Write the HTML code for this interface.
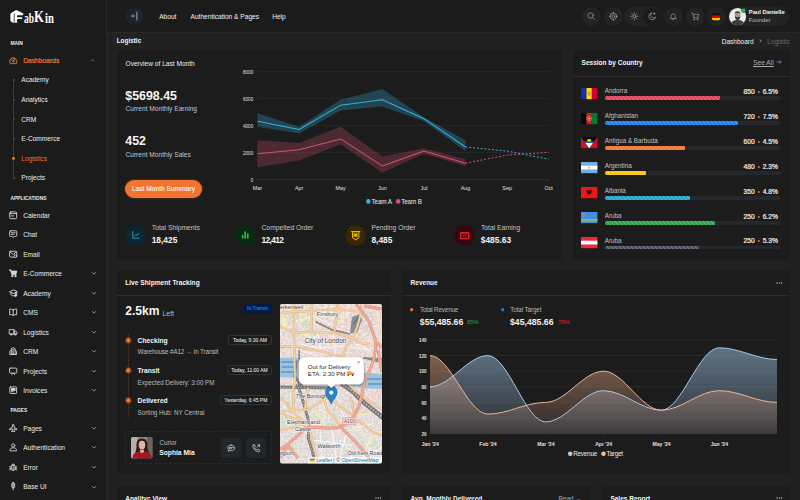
<!DOCTYPE html>
<html><head><meta charset="utf-8"><title>Logistic Dashboard</title>
<style>
*{box-sizing:border-box;margin:0;padding:0}
html,body{width:800px;height:500px;overflow:hidden;background:#212121;font-family:"Liberation Sans",sans-serif;color:#ececec}
body{position:relative}
.t{position:absolute;white-space:nowrap;line-height:1;font-size:6.6px}
.b{font-weight:bold}
.g{color:#c3c6cb}
.side{position:absolute;left:0;top:0;width:107px;height:500px;background:#1b1b1b;border-right:1px solid #292929}
.top{position:absolute;left:107px;top:0;width:693px;height:33px;background:#1b1b1b;border-bottom:1px solid #282828}
.card{position:absolute;background:#1c1c1c;border-radius:3.5px}
.hr{position:absolute;height:1px;background:#2d2d2d}
.cap{font-size:4.9px;font-weight:bold;color:#ededed}
.or{color:#f27430}
svg{position:absolute;overflow:visible}
.ic{fill:none;stroke:#d6d6d6;stroke-width:.9;stroke-linecap:round;stroke-linejoin:round}
.circ{position:absolute;border-radius:50%;background:#232323}
.ax{font-size:4.6px;color:#e0e0e0}
.bar{position:absolute;height:3.8px;border-radius:1.900px}
.trk{background:#24282c}
.stripe{background-image:linear-gradient(45deg,rgba(255,255,255,.18) 25%,transparent 25%,transparent 50%,rgba(255,255,255,.18) 50%,rgba(255,255,255,.18) 75%,transparent 75%,transparent);background-size:4px 4px}
.tb{position:absolute;border:.8px solid #333;border-radius:2.500px;font-size:5px;color:#d6d6d6;-webkit-text-stroke:.12px #d6d6d6;text-align:center;white-space:nowrap}
</style></head><body>

<div class="side"></div>
<svg style="left:10.4px;top:9.7px" width="14" height="13.2" viewBox="0 0 14 13.2">
<path d="M0.4 3.6 L6.1 0.1 L13.2 3.2 L13.2 5.2 L7.1 5.2 L7.1 7.2 L12.2 7.2 L12.2 8.9 L7.1 8.9 L7.1 12.7 L2.9 12.7 L0.4 11 Z" fill="#fff"/>
<path d="M4.6 3.6 C4 6 4 9 4.3 12.6" stroke="#1b1b1b" stroke-width=".8" fill="none"/>
</svg>
<div class="t b" style="left:24.3px;top:19.1px;font-family:'Liberation Serif',serif;font-size:14px;color:#fff;transform:translateY(-50%) scaleX(.68);transform-origin:left center">ab</div>
<div class="t b" style="left:34.3px;top:17.4px;font-family:'Liberation Serif',serif;font-size:17.4px;color:#fff;transform:translateY(-50%) scaleX(.74);transform-origin:left center">K</div>
<div class="t b" style="left:44.7px;top:19.1px;font-family:'Liberation Serif',serif;font-size:14px;color:#fff;transform:translateY(-50%) scaleX(.76);transform-origin:left center">in</div>
<div class="t cap" style="left:10.4px;top:42px;">MAIN</div>
<svg style="left:8.9px;top:56.3px" width="8.6" height="8.4" viewBox="0 0 8.6 8.4"><g class="ic" style="stroke:#f27430">
<path d="M1.1 7.3 A3.7 3.7 0 1 1 7.5 7.3 Z"/><path d="M4.3 5.2 L5.9 3.1"/><circle cx="4.3" cy="5.3" r=".7"/><path d="M2.2 3.6l.5.5M4.3 2.4v.6"/></g></svg>
<div class="t or" style="left:23.2px;top:58px;font-size:6.7px;-webkit-text-stroke:.2px #f27430">Dashboards</div>
<svg style="left:91.3px;top:59.1px" width="3.800" height="2.600" viewBox="0 0 4.4 3"><path d="M.4 2.5L2.2.6 4 2.5" fill="none" stroke="#e56a2c" stroke-width=".75" stroke-linecap="round" stroke-linejoin="round"/></svg>
<div style="position:absolute;left:13.3px;top:79px;width:.7px;height:99px;background:#383838"></div>
<div style="position:absolute;left:12.5px;top:79.00px;width:2.3px;height:2.3px;border-radius:50%;background:#484848"></div>
<div class="t " style="left:21.3px;top:77px;">Academy</div>
<div style="position:absolute;left:12.5px;top:98.60px;width:2.3px;height:2.3px;border-radius:50%;background:#484848"></div>
<div class="t " style="left:21.3px;top:97px;">Analytics</div>
<div style="position:absolute;left:12.5px;top:118.20px;width:2.3px;height:2.3px;border-radius:50%;background:#484848"></div>
<div class="t " style="left:21.3px;top:117px;">CRM</div>
<div style="position:absolute;left:12.5px;top:137.80px;width:2.3px;height:2.3px;border-radius:50%;background:#484848"></div>
<div class="t " style="left:21.3px;top:136px;">E-Commerce</div>
<div style="position:absolute;left:12.2px;top:157.10px;width:2.9px;height:2.9px;border-radius:50%;background:#f27430"></div>
<div class="t or" style="left:21.3px;top:156px;">Logistics</div>
<div style="position:absolute;left:12.5px;top:177.00px;width:2.3px;height:2.3px;border-radius:50%;background:#484848"></div>
<div class="t " style="left:21.3px;top:175px;">Projects</div>
<div class="t cap" style="left:10.4px;top:197px;">APPLICATIONS</div>
<svg style="left:8.8px;top:210.80px" width="8.4" height="8.4" viewBox="0 0 8.4 8.4"><g class="ic"><rect x=".7" y=".9" width="7" height="6.800" rx="1.100"/><path d="M.7 2.600h7M2.100 4.900h2.400"/></g></svg>
<div class="t " style="left:23.2px;top:213px;">Calendar</div>
<svg style="left:8.8px;top:230.27px" width="8.4" height="8.4" viewBox="0 0 8.4 8.4"><g class="ic"><path d="M1.6.8h5.2a1 1 0 0 1 1 1v3.6a1 1 0 0 1-1 1H5.2L4.2 7.7 3.2 6.4H1.6a1 1 0 0 1-1-1V1.8a1 1 0 0 1 1-1z"/><path d="M2.3 2.8h3.8M2.3 4.3h2.6"/></g></svg>
<div class="t " style="left:23.2px;top:232px;">Chat</div>
<svg style="left:8.8px;top:249.74px" width="8.4" height="8.4" viewBox="0 0 8.4 8.4"><g class="ic"><rect x=".6" y="1.3" width="7.2" height="5.8" rx=".9"/><path d="M.8 1.8l3.4 2.6 3.4-2.6"/><circle cx="6.4" cy="6.2" r="1.3" style="fill:#1b1b1b"/></g></svg>
<div class="t " style="left:23.2px;top:252px;">Email</div>
<svg style="left:8.8px;top:269.21px" width="8.4" height="8.4" viewBox="0 0 8.4 8.4"><g class="ic"><path d="M.5.9h1.2l1.1 4.5h4.1l.9-3.3H2.2z" style="fill:#d6d6d6"/><circle cx="3.2" cy="7" r=".7" style="fill:#d6d6d6"/><circle cx="6.4" cy="7" r=".7" style="fill:#d6d6d6"/></g></svg>
<div class="t " style="left:23.2px;top:271px;">E-Commerce</div>
<svg style="left:91.9px;top:272.41px" width="4" height="2.700" viewBox="0 0 4.4 3"><path d="M.5.6L2.200 2.400 3.900.6" fill="none" stroke="#bdbdbd" stroke-width=".8" stroke-linecap="round" stroke-linejoin="round"/></svg>
<svg style="left:8.8px;top:288.68px" width="8.4" height="8.4" viewBox="0 0 8.4 8.4"><g class="ic"><path d="M4.2 1L.5 2.8l3.7 1.8 3.7-1.8z"/><path d="M2 3.7v1.9c0 .6 1 1.2 2.2 1.2s2.2-.6 2.2-1.2V3.7"/><path d="M7.7 3v2.6" /><circle cx="6.6" cy="6.6" r="1" style="fill:#d6d6d6"/></g></svg>
<div class="t " style="left:23.2px;top:291px;">Academy</div>
<svg style="left:91.9px;top:291.88px" width="4" height="2.700" viewBox="0 0 4.4 3"><path d="M.5.6L2.200 2.400 3.900.6" fill="none" stroke="#bdbdbd" stroke-width=".8" stroke-linecap="round" stroke-linejoin="round"/></svg>
<svg style="left:8.8px;top:308.15px" width="8.4" height="8.4" viewBox="0 0 8.4 8.4"><g class="ic"><path d="M4.2 1.9C3.3 1.2 2 1 .7 1.2v5.5c1.3-.2 2.6 0 3.5.7.9-.7 2.2-.9 3.5-.7V1.2C6.400 1 5.100 1.200 4.200 1.900z"/><path d="M4.2 1.9v5.500"/></g></svg>
<div class="t " style="left:23.2px;top:310px;">CMS</div>
<svg style="left:91.9px;top:311.35px" width="4" height="2.700" viewBox="0 0 4.4 3"><path d="M.5.6L2.200 2.400 3.900.6" fill="none" stroke="#bdbdbd" stroke-width=".8" stroke-linecap="round" stroke-linejoin="round"/></svg>
<svg style="left:8.8px;top:327.62px" width="8.4" height="8.4" viewBox="0 0 8.4 8.4"><g class="ic"><path d="M.6 1.600h4.600v4.400H.6z"/><path d="M5.200 3h1.600l1.100 1.500V6H5.200z"/><circle cx="2.300" cy="6.500" r=".8" style="fill:#1b1b1b"/><circle cx="6.300" cy="6.500" r=".8" style="fill:#1b1b1b"/></g></svg>
<div class="t " style="left:23.2px;top:330px;">Logistics</div>
<svg style="left:91.9px;top:330.82px" width="4" height="2.700" viewBox="0 0 4.4 3"><path d="M.5.6L2.200 2.400 3.900.6" fill="none" stroke="#bdbdbd" stroke-width=".8" stroke-linecap="round" stroke-linejoin="round"/></svg>
<svg style="left:8.8px;top:347.09px" width="8.4" height="8.4" viewBox="0 0 8.4 8.4"><g class="ic"><path d="M2.300 7.500V1.600L4.200.7l1.900.9v5.900"/><path d="M2.300 3.500L.8 4.300v3.200h6.800V4.300L6.100 3.500"/><path d="M3.600 7.500V5.800h1.200v1.700M3.600 2.800h1.200M3.600 4.200h1.200"/></g></svg>
<div class="t " style="left:23.2px;top:349px;">CRM</div>
<svg style="left:91.9px;top:350.29px" width="4" height="2.700" viewBox="0 0 4.4 3"><path d="M.5.6L2.200 2.400 3.900.6" fill="none" stroke="#bdbdbd" stroke-width=".8" stroke-linecap="round" stroke-linejoin="round"/></svg>
<svg style="left:8.8px;top:366.56px" width="8.4" height="8.4" viewBox="0 0 8.4 8.4"><g class="ic"><rect x=".6" y="1.100" width="7.200" height="5" rx=".7"/><path d="M2.800 7.600l1.400-1.500 1.400 1.500"/></g></svg>
<div class="t " style="left:23.2px;top:369px;">Projects</div>
<svg style="left:91.9px;top:369.76px" width="4" height="2.700" viewBox="0 0 4.4 3"><path d="M.5.6L2.200 2.400 3.900.6" fill="none" stroke="#bdbdbd" stroke-width=".8" stroke-linecap="round" stroke-linejoin="round"/></svg>
<svg style="left:8.8px;top:386.03px" width="8.4" height="8.4" viewBox="0 0 8.4 8.4"><g class="ic"><rect x=".8" y=".9" width="6.800" height="6.600" rx=".7"/><path d="M2.300 2.700h3.800M2.300 4.200h3.800M2.300 5.700h2" /><rect x="2" y="2.200" width="4.400" height="2.400" style="fill:#d6d6d6;stroke:none"/></g></svg>
<div class="t " style="left:23.2px;top:388px;">Invoices</div>
<svg style="left:91.9px;top:389.23px" width="4" height="2.700" viewBox="0 0 4.4 3"><path d="M.5.6L2.200 2.400 3.900.6" fill="none" stroke="#bdbdbd" stroke-width=".8" stroke-linecap="round" stroke-linejoin="round"/></svg>
<svg style="left:8.8px;top:423.70px" width="8.4" height="8.4" viewBox="0 0 8.4 8.4"><g class="ic"><path d="M4.200.6c.5 0 .8.500.8 1.200v1.300l2.800 1.700v.9L5 4.900v1.500l.9.700v.600L4.200 7.300l-1.700.4v-.600l.9-.700V4.900L.6 5.700v-.900l2.800-1.700V1.800c0-.700.300-1.200.800-1.200z"/></g></svg>
<div class="t " style="left:23.2px;top:426px;">Pages</div>
<svg style="left:91.9px;top:426.90px" width="4" height="2.700" viewBox="0 0 4.4 3"><path d="M.5.6L2.200 2.400 3.900.6" fill="none" stroke="#bdbdbd" stroke-width=".8" stroke-linecap="round" stroke-linejoin="round"/></svg>
<svg style="left:8.8px;top:443.20px" width="8.4" height="8.4" viewBox="0 0 8.4 8.4"><g class="ic"><circle cx="4.200" cy="2.400" r="1.600"/><path d="M1 7.500v-.8c0-1.200 1.400-1.900 3.200-1.900s3.200.7 3.200 1.900v.8z"/></g></svg>
<div class="t " style="left:23.2px;top:445px;">Authentication</div>
<svg style="left:91.9px;top:446.40px" width="4" height="2.700" viewBox="0 0 4.4 3"><path d="M.5.6L2.200 2.400 3.900.6" fill="none" stroke="#bdbdbd" stroke-width=".8" stroke-linecap="round" stroke-linejoin="round"/></svg>
<svg style="left:8.8px;top:462.70px" width="8.4" height="8.4" viewBox="0 0 8.4 8.4"><g class="ic"><rect x="2.200" y="2.200" width="4" height="5.200" rx="2"/><path d="M2.700 2.500a1.500 1.500 0 0 1 3 0M.7 3.600l1.500.700M7.700 3.600l-1.500.700M.7 6.900l1.500-.700M7.700 6.900l-1.500-.700M.6 5.200h1.600M6.200 5.200h1.600M4.200 3.800v3.600"/></g></svg>
<div class="t " style="left:23.2px;top:465px;">Error</div>
<svg style="left:91.9px;top:465.90px" width="4" height="2.700" viewBox="0 0 4.4 3"><path d="M.5.6L2.200 2.400 3.900.6" fill="none" stroke="#bdbdbd" stroke-width=".8" stroke-linecap="round" stroke-linejoin="round"/></svg>
<svg style="left:8.8px;top:482.30px" width="8.4" height="8.4" viewBox="0 0 8.4 8.4"><g class="ic"><path d="M4.200.6c.9 0 1.400.700 1.400 1.600v2.300c0 .9-.5 1.500-1.400 1.500s-1.400-.6-1.400-1.500V2.200c0-.9.500-1.600 1.400-1.600z" style="fill:#8a8a8a"/><path d="M4.200 6v1.800"/></g></svg>
<div class="t " style="left:23.2px;top:484px;">Base UI</div>
<svg style="left:91.9px;top:485.50px" width="4" height="2.700" viewBox="0 0 4.4 3"><path d="M.5.6L2.200 2.400 3.900.6" fill="none" stroke="#bdbdbd" stroke-width=".8" stroke-linecap="round" stroke-linejoin="round"/></svg>
<div class="t cap" style="left:10.4px;top:409px;">PAGES</div>
<div class="top"></div>
<div class="circ" style="left:125.9px;top:7.6px;width:17.4px;height:17.4px;background:#1f262b"></div>
<svg style="left:131.300px;top:13.400px" width="7" height="6" viewBox="0 0 7 6"><g class="ic" style="stroke:#aab4bd"><path d="M.8 3h3M2 1.800L.8 3 2 4.200" style="stroke:#86a3b8"/><path d="M5.900-.9v7.800" style="stroke:#cfc8c0;stroke-width:.8"/></g></svg>
<div class="t " style="left:159.2px;top:14px;color:#f2f2f2">About</div>
<div class="t " style="left:190.5px;top:14px;color:#f2f2f2">Authentication &amp; Pages</div>
<div class="t " style="left:272.2px;top:14px;color:#f2f2f2">Help</div>
<div class="circ" style="left:582.1px;top:7px;width:19px;height:19px"></div>
<div class="circ" style="left:603.6px;top:7px;width:19px;height:19px"></div>
<div class="circ" style="left:663.9px;top:7px;width:19px;height:19px"></div>
<div class="circ" style="left:685.5px;top:7px;width:19px;height:19px"></div>
<div class="circ" style="left:706.8px;top:7px;width:19px;height:19px"></div>
<div style="position:absolute;left:624.4px;top:7px;width:37.600px;height:19px;border-radius:9.500px;background:#232323"></div>
<div class="circ" style="left:643.3px;top:7.500px;width:18px;height:18px;background:#1b1b1b"></div>
<svg style="left:587.40px;top:12.20px" width="8.6" height="8.6" viewBox="0 0 8 8"><g class="ic" style="stroke:#b4b4b4;stroke-width:.55;"><circle cx="3.400" cy="3.300" r="2.500"/><path d="M5.200 5.100L7 7"/></g></svg>
<svg style="left:608.80px;top:12.10px" width="8.6" height="8.6" viewBox="0 0 8 8"><g class="ic" style="stroke:#b4b4b4;stroke-width:.55;"><circle cx="4" cy="4" r="3.100"/><circle cx="4" cy="4" r="1.300"/><path d="M4 .3v1M4 6.700v1M.3 4h1M6.700 4h1"/></g></svg>
<svg style="left:630.00px;top:12.10px" width="8.6" height="8.6" viewBox="0 0 8 8"><g class="ic" style="stroke:#b4b4b4;stroke-width:.55;"><circle cx="4" cy="4" r="1.400"/><path d="M4 .5v1.200M4 6.300v1.200M.5 4h1.200M6.300 4h1.200M1.500 1.500l.9.900M5.600 5.600l.9.900M6.500 1.500l-.9.900M2.400 5.600l-.9.900"/></g></svg>
<svg style="left:648.00px;top:12.10px" width="8.6" height="8.6" viewBox="0 0 8 8"><g class="ic" style="stroke:#b4b4b4;stroke-width:.55;"><path d="M3.300.9A3.200 3.200 0 1 0 7.100 4.700 2.600 2.600 0 0 1 3.300.9z"/><path d="M5.800.8v1.600M5 1.600h1.600"/></g></svg>
<svg style="left:669.10px;top:12.10px" width="8.6" height="8.6" viewBox="0 0 8 8"><g class="ic" style="stroke:#b4b4b4;stroke-width:.55;"><path d="M1.500 5.800c.6-.6.700-1.300.7-2.300a1.800 1.800 0 0 1 3.600 0c0 1 .1 1.700.7 2.300z"/><path d="M3.300 6.900a.8.800 0 0 0 1.400 0"/></g></svg>
<svg style="left:690.70px;top:12.10px" width="8.6" height="8.6" viewBox="0 0 8 8"><g class="ic" style="stroke:#b4b4b4;stroke-width:.55;"><path d="M.6 1h1.100l.9 4.200h3.900l.8-3H2.100"/><circle cx="3" cy="6.700" r=".5"/><circle cx="6" cy="6.700" r=".5"/></g></svg>
<svg style="left:711.900px;top:12.600px" width="8.200" height="7.500" viewBox="0 0 8.200 7.500"><clipPath id="gf"><rect width="8.200" height="7.500" rx="2.300"/></clipPath><g clip-path="url(#gf)"><rect width="8.200" height="2.500" fill="#111"/><rect y="2.500" width="8.200" height="2.500" fill="#dd0000"/><rect y="5" width="8.200" height="2.500" fill="#ffce00"/></g></svg>
<div style="position:absolute;left:727.800px;top:6.800px;width:61.400px;height:19px;border-radius:9.500px;background:#232323"></div>
<svg style="left:729px;top:7.700px" width="17.200" height="17.200" viewBox="0 0 17.200 17.200"><clipPath id="av"><circle cx="8.600" cy="8.600" r="8.600"/></clipPath><g clip-path="url(#av)"><rect width="17.200" height="17.200" fill="#ececec"/><ellipse cx="8.600" cy="7.400" rx="2.700" ry="3.500" fill="#a8968a"/><path d="M5.600 6.800c-.4-4.600 6.400-4.600 6 0-.3-1.500-1-2.200-3-2.200s-2.700.7-3 2.200z" fill="#1f1b19"/><path d="M5.800 7.600c.1 3.300 1.400 4.500 2.800 4.500s2.700-1.200 2.800-4.500c-.3 1.500-1.200 1.900-2.800 1.900s-2.500-.4-2.800-1.900z" fill="#2b2421"/><path d="M1.800 17.200c0-3.600 2.800-5.200 6.800-5.200s6.800 1.600 6.800 5.200z" fill="#3c3c3e"/></g></svg>
<svg style="left:741.300px;top:8.100px" width="5" height="5" viewBox="0 0 5 5"><circle cx="2.500" cy="2.500" r="2.150" fill="#22c04f" stroke="#1f1f1f" stroke-width=".4"/></svg>
<div class="t b" style="left:748.8px;top:10px;font-size:5.750px;color:#f4f4f4">Paul Danielle</div>
<div class="t " style="left:748.8px;top:18px;font-size:5.800px;color:#bcbfc4">Founder</div>
<div class="t b" style="left:116.7px;top:38px;font-size:6.400px;color:#f4f4f4">Logistic</div>
<div class="t " style="left:721.8px;top:39px;font-size:6.500px;color:#f4f4f4">Dashboard</div>
<svg style="left:759px;top:39.400px" width="3" height="3.600" viewBox="0 0 3 3.600"><path d="M.7.500L2.300 1.800.7 3.100" fill="none" stroke="#bdbdbd" stroke-width=".7"/></svg>
<div class="t " style="left:767.2px;top:39px;font-size:6.700px;color:#686d73">Logistic</div>
<div class="card" style="left:116.7px;top:49.5px;width:445.4px;height:210.0px"></div>
<div class="card" style="left:572.5px;top:49.5px;width:217.5px;height:210.0px"></div>
<div class="card" style="left:116.7px;top:269.9px;width:274.05px;height:203.1px"></div>
<div class="card" style="left:402px;top:269.9px;width:388px;height:204.6px"></div>
<div class="card" style="left:116.7px;top:485.75px;width:274.05px;height:34.25px"></div>
<div class="card" style="left:402px;top:485.75px;width:188.75px;height:34.25px"></div>
<div class="card" style="left:601.5px;top:485.75px;width:188.5px;height:34.25px"></div>
<div class="t " style="left:125.5px;top:61px;color:#ececec">Overview of Last Month</div>
<div class="t b" style="left:125.3px;top:90px;font-size:12.4px;color:#f5f5f5">$5698.45</div>
<div class="t g" style="left:125.5px;top:106px;">Current Monthly Earning</div>
<div class="t b" style="left:125.3px;top:135px;font-size:12.4px;color:#f5f5f5">452</div>
<div class="t g" style="left:125.5px;top:152px;">Current Monthly Sales</div>
<div style="position:absolute;left:125.1px;top:179.8px;width:76.7px;height:17.8px;border-radius:9px;background:#f27430;box-shadow:0 0 2.500px rgba(242,116,48,.4)"></div>
<div class="t " style="left:125.1px;width:76.7px;text-align:center;top:186px;font-size:6.650px;color:#fff;-webkit-text-stroke:.08px #fff">Last Month Summary</div>
<div class="circ" style="left:125.00px;top:224.80px;width:21.2px;height:21.2px;background:#0b2630"></div>
<svg style="left:131.60px;top:231.40px" width="8" height="8" viewBox="0 0 8 8"><g class="ic" style="stroke:#2aa5c9;stroke-width:.9"><path d="M.8.600v6.600h6.600"/><path d="M2.300 5.200l1.500-1.700 1.100 1 1.900-2.200"/></g></svg>
<div class="t g" style="left:151.8px;top:225px;font-size:6.750px">Total Shipments</div>
<div class="t b" style="left:151.7px;top:236px;font-size:8.400px;color:#f5f5f5">18,425</div>
<div class="circ" style="left:234.70px;top:224.80px;width:21.2px;height:21.2px;background:#082a10"></div>
<svg style="left:241.30px;top:231.40px" width="8" height="8" viewBox="0 0 8 8"><g class="ic" style="stroke:#25bd50;stroke-width:.9"><path d="M1.700 4v3.400M4.200 .400v7M6.800 2.400v5" style="stroke-width:1.700;stroke-linecap:butt"/></g></svg>
<div class="t g" style="left:261.5px;top:225px;font-size:6.750px">Compelted Order</div>
<div class="t b" style="left:261.4px;top:236px;font-size:8.400px;color:#f5f5f5;letter-spacing:-.6px">12,412</div>
<div class="circ" style="left:344.70px;top:224.80px;width:21.2px;height:21.2px;background:#382800"></div>
<svg style="left:350.60px;top:230.70px" width="9.4" height="9.4" viewBox="0 0 8 8"><g class="ic" style="stroke:#eab308;stroke-width:.9"><path d="M.4.500h7.200" style="stroke-width:1"/><path d="M1.300.700v5l2.700 1.900 2.700-1.900v-5"/><rect x="2.700" y="2.300" width="2.600" height="2.400" style="fill:#eab308;stroke-width:.5"/></g></svg>
<div class="t g" style="left:371.5px;top:225px;font-size:6.750px">Pending Order</div>
<div class="t b" style="left:371.4px;top:236px;font-size:8.400px;color:#f5f5f5">8,485</div>
<div class="circ" style="left:454.10px;top:224.80px;width:21.2px;height:21.2px;background:#33090d"></div>
<svg style="left:460.00px;top:230.70px" width="9.4" height="9.4" viewBox="0 0 8 8"><g class="ic" style="stroke:#e0222e;stroke-width:.9"><rect x=".6" y="1.500" width="6.800" height="5" rx=".4" style="stroke-width:1.200"/><circle cx="4" cy="4" r="1.100" style="stroke-width:.7"/></g></svg>
<div class="t g" style="left:480.9px;top:225px;font-size:6.750px">Total Earning</div>
<div class="t b" style="left:480.8px;top:236px;font-size:8.400px;color:#f5f5f5">$485.63</div>
<svg style="left:0;top:0" width="800" height="500" viewBox="0 0 800 500">
<path d="M257.5 179.40H548.8" stroke="#3a3a3a" stroke-width=".7"/>
<path d="M257.5 152.40H548.8" stroke="#2e2e2e" stroke-width=".7"/>
<path d="M257.5 125.40H548.8" stroke="#2e2e2e" stroke-width=".7"/>
<path d="M257.5 98.40H548.8" stroke="#2e2e2e" stroke-width=".7"/>
<path d="M257.5 71.40H548.8" stroke="#2e2e2e" stroke-width=".7"/>
<path d="M257.50 179.4v2.200" stroke="#3a3a3a" stroke-width=".6"/>
<path d="M299.10 179.4v2.200" stroke="#3a3a3a" stroke-width=".6"/>
<path d="M340.70 179.4v2.200" stroke="#3a3a3a" stroke-width=".6"/>
<path d="M382.30 179.4v2.200" stroke="#3a3a3a" stroke-width=".6"/>
<path d="M423.90 179.4v2.200" stroke="#3a3a3a" stroke-width=".6"/>
<path d="M465.50 179.4v2.200" stroke="#3a3a3a" stroke-width=".6"/>
<path d="M507.10 179.4v2.200" stroke="#3a3a3a" stroke-width=".6"/>
<path d="M548.70 179.4v2.200" stroke="#3a3a3a" stroke-width=".6"/>
<path d="M257.50 140.25 L299.10 142.95 L340.70 126.75 L382.30 156.45 L423.90 148.35 L465.50 159.15 L465.50 165.90 L423.90 153.75 L382.30 172.65 L340.70 144.30 L299.10 160.50 L257.50 167.25Z" fill="#d4526e" fill-opacity=".27"/>
<path d="M257.50 113.25 L299.10 126.75 L340.70 99.75 L382.30 88.95 L423.90 117.30 L465.50 140.25 L465.50 151.05 L423.90 121.35 L382.30 106.50 L340.70 110.55 L299.10 133.50 L257.50 126.75Z" fill="#33b2df" fill-opacity=".27"/>
<path d="M257.50 153.75 L299.10 149.70 L340.70 138.90 L382.30 165.90 L423.90 151.05 L465.50 163.20" fill="none" stroke="#d4526e" stroke-width="1.050" stroke-linejoin="round"/>
<path d="M465.50 163.20 L507.10 155.10 L548.70 152.40" fill="none" stroke="#d4526e" stroke-width="1" stroke-dasharray="1.900 1.900"/>
<path d="M257.50 121.35 L299.10 129.45 L340.70 105.15 L382.30 99.75 L423.90 118.65 L465.50 147.00" fill="none" stroke="#33b2df" stroke-width="1.050" stroke-linejoin="round"/>
<path d="M465.50 147.00 L507.10 151.05 L548.70 159.15" fill="none" stroke="#33b2df" stroke-width="1" stroke-dasharray="1.900 1.900"/>
<circle cx="368.300" cy="201.400" r="2.300" fill="#33b2df"/><circle cx="398.200" cy="201.400" r="2.300" fill="#d4526e"/>
</svg>
<div class="t ax" style="right:546.8px;top:179px;">0</div>
<div class="t ax" style="right:546.8px;top:152px;">2000</div>
<div class="t ax" style="right:546.8px;top:125px;">4000</div>
<div class="t ax" style="right:546.8px;top:98px;">6000</div>
<div class="t ax" style="right:546.8px;top:71px;">8000</div>
<div class="t ax" style="left:242.5px;width:30px;text-align:center;top:186px;font-size:5.400px">Mar</div>
<div class="t ax" style="left:284.1px;width:30px;text-align:center;top:186px;font-size:5.400px">Apr</div>
<div class="t ax" style="left:325.7px;width:30px;text-align:center;top:186px;font-size:5.400px">May</div>
<div class="t ax" style="left:367.3px;width:30px;text-align:center;top:186px;font-size:5.400px">Jun</div>
<div class="t ax" style="left:408.9px;width:30px;text-align:center;top:186px;font-size:5.400px">Jul</div>
<div class="t ax" style="left:450.5px;width:30px;text-align:center;top:186px;font-size:5.400px">Aug</div>
<div class="t ax" style="left:492.1px;width:30px;text-align:center;top:186px;font-size:5.400px">Sep</div>
<div class="t ax" style="left:533.7px;width:30px;text-align:center;top:186px;font-size:5.400px">Oct</div>
<div class="t " style="left:371.5px;top:199px;font-size:6.300px;color:#ededed;letter-spacing:-.12px">Team A</div>
<div class="t " style="left:401.2px;top:199px;font-size:6.300px;color:#ededed;letter-spacing:-.12px">Team B</div>
<div class="t b" style="left:581.6px;top:60px;font-size:6.500px;color:#f4f4f4">Session by Country</div>
<div class="t " style="right:26.2px;top:60px;font-size:6.700px;color:#a8adb3"><span style="text-decoration:underline">See All </span></div>
<svg style="left:776px;top:60.400px" width="5.600" height="4.200" viewBox="0 0 5.600 4.200"><path d="M.4 2.100h4.700M3.400.500l1.700 1.600-1.700 1.600" fill="none" stroke="#a8adb3" stroke-width=".6"/></svg>
<div class="hr" style="left:572.5px;top:75.700px;width:217.500px"></div>
<svg style="left:581.2px;top:87.60px" width="16.400" height="11.200" viewBox="0 0 16.400 11.200"><rect width="5.500" height="11.200" fill="#1630ae"/><rect x="5.500" width="5.400" height="11.200" fill="#fedd00"/><rect x="10.800" width="5.600" height="11.200" fill="#d50032"/><rect x="6.900" y="3.800" width="2.600" height="3.600" rx=".8" fill="#c7803a"/><rect x="7.500" y="4.500" width="1.400" height="2" fill="#e8c36a"/></svg>
<div class="t " style="left:604.8px;top:88px;font-size:6.300px;color:#c0c3c8">Andorra</div>
<div class="t " style="right:22.2px;top:89px;font-size:6.650px;color:#ececec;-webkit-text-stroke:.22px #ececec">850 <span style="color:#f27430;font-size:6.500px;position:relative;top:-.200px;margin:0 1px;-webkit-text-stroke:0">&bull;</span> 6.5%</div>
<div class="bar trk" style="left:604.8px;top:96.30px;width:176.400px"></div>
<div class="bar stripe" style="left:604.8px;top:96.30px;width:115.16px;background-color:#e23e53;border-radius:1.900px 1px 1px 1.900px"></div>
<svg style="left:581.2px;top:112.50px" width="16.400" height="11.200" viewBox="0 0 16.400 11.200"><rect width="5.500" height="11.200" fill="#0a0a0a"/><rect x="5.500" width="5.400" height="11.200" fill="#d32011"/><rect x="10.800" width="5.600" height="11.200" fill="#007a36"/><circle cx="8.200" cy="5.600" r="2.300" fill="none" stroke="#fff" stroke-width=".6" stroke-dasharray=".6 .4"/><circle cx="8.200" cy="5.600" r=".9" fill="#fff" fill-opacity=".8"/></svg>
<div class="t " style="left:604.8px;top:113px;font-size:6.300px;color:#c0c3c8">Afghanistan</div>
<div class="t " style="right:22.2px;top:114px;font-size:6.650px;color:#ececec;-webkit-text-stroke:.22px #ececec">720 <span style="color:#f27430;font-size:6.500px;position:relative;top:-.200px;margin:0 1px;-webkit-text-stroke:0">&bull;</span> 7.5%</div>
<div class="bar trk" style="left:604.8px;top:121.20px;width:176.400px"></div>
<div class="bar stripe" style="left:604.8px;top:121.20px;width:132.80px;background-color:#0d80f2;border-radius:1.900px 1px 1px 1.900px"></div>
<svg style="left:581.2px;top:137.40px" width="16.400" height="11.200" viewBox="0 0 16.400 11.200"><rect width="16.400" height="11.200" fill="#ce1126"/><path d="M0 0H16.400L8.200 11.200z" fill="#0a0a0a"/><path d="M3.200 4.400H13.200L12 6H4.400z" fill="#0072c6"/><path d="M4.400 6H12L8.200 11.200z" fill="#fff"/><path d="M5.900 4.400a2.300 2.300 0 0 1 4.600 0z" fill="#fcd116"/></svg>
<div class="t " style="left:604.8px;top:138px;font-size:6.300px;color:#c0c3c8">Antigua &amp; Barbuda</div>
<div class="t " style="right:22.2px;top:139px;font-size:6.650px;color:#ececec;-webkit-text-stroke:.22px #ececec">600 <span style="color:#f27430;font-size:6.500px;position:relative;top:-.200px;margin:0 1px;-webkit-text-stroke:0">&bull;</span> 4.5%</div>
<div class="bar trk" style="left:604.8px;top:146.10px;width:176.400px"></div>
<div class="bar stripe" style="left:604.8px;top:146.10px;width:79.88px;background-color:#f27430;border-radius:1.900px 1px 1px 1.900px"></div>
<svg style="left:581.2px;top:162.30px" width="16.400" height="11.200" viewBox="0 0 16.400 11.200"><rect width="16.400" height="11.200" fill="#74acdf"/><rect y="3.700" width="16.400" height="3.800" fill="#fff"/><circle cx="8.200" cy="5.600" r="1.100" fill="#f6b40e"/></svg>
<div class="t " style="left:604.8px;top:163px;font-size:6.300px;color:#c0c3c8">Argentina</div>
<div class="t " style="right:22.2px;top:164px;font-size:6.650px;color:#ececec;-webkit-text-stroke:.22px #ececec">480 <span style="color:#f27430;font-size:6.500px;position:relative;top:-.200px;margin:0 1px;-webkit-text-stroke:0">&bull;</span> 2.3%</div>
<div class="bar trk" style="left:604.8px;top:171.00px;width:176.400px"></div>
<div class="bar stripe" style="left:604.8px;top:171.00px;width:41.07px;background-color:#f5c20f;border-radius:1.900px 1px 1px 1.900px"></div>
<svg style="left:581.2px;top:187.20px" width="16.400" height="11.200" viewBox="0 0 16.400 11.200"><rect width="16.400" height="11.200" fill="#f01414"/><path d="M8.200 2.600l1 1.200 1.900-.9-.7 1.500 1.300.3-1.700.9.600 1.200-1.500-.2-.9 2-.9-2-1.500.2.600-1.200-1.700-.9 1.300-.3-.7-1.500 1.900.9z" fill="#111"/></svg>
<div class="t " style="left:604.8px;top:188px;font-size:6.300px;color:#c0c3c8">Albania</div>
<div class="t " style="right:22.2px;top:189px;font-size:6.650px;color:#ececec;-webkit-text-stroke:.22px #ececec">350 <span style="color:#f27430;font-size:6.500px;position:relative;top:-.200px;margin:0 1px;-webkit-text-stroke:0">&bull;</span> 4.8%</div>
<div class="bar trk" style="left:604.8px;top:195.90px;width:176.400px"></div>
<div class="bar stripe" style="left:604.8px;top:195.90px;width:85.17px;background-color:#1ba5c6;border-radius:1.900px 1px 1px 1.900px"></div>
<svg style="left:581.2px;top:212.10px" width="16.400" height="11.200" viewBox="0 0 16.400 11.200"><rect width="16.400" height="11.200" fill="#418fde"/><rect y="7" width="16.400" height="2.400" fill="#95ad70"/><path d="M2.400 1l.5 1.200 1.200.5-1.200.5-.5 1.200-.5-1.200L.7 2.700l1.200-.5z" fill="#ef3340" stroke="#fff" stroke-width=".2"/></svg>
<div class="t " style="left:604.8px;top:213px;font-size:6.300px;color:#c0c3c8">Aruba</div>
<div class="t " style="right:22.2px;top:214px;font-size:6.650px;color:#ececec;-webkit-text-stroke:.22px #ececec">250 <span style="color:#f27430;font-size:6.500px;position:relative;top:-.200px;margin:0 1px;-webkit-text-stroke:0">&bull;</span> 6.2%</div>
<div class="bar trk" style="left:604.8px;top:220.80px;width:176.400px"></div>
<div class="bar stripe" style="left:604.8px;top:220.80px;width:109.87px;background-color:#1ea648;border-radius:1.900px 1px 1px 1.900px"></div>
<svg style="left:581.2px;top:237.00px" width="16.400" height="11.200" viewBox="0 0 16.400 11.200"><rect width="16.400" height="11.200" fill="#ed2939"/><rect y="3.700" width="16.400" height="3.800" fill="#fff"/></svg>
<div class="t " style="left:604.8px;top:238px;font-size:6.300px;color:#c0c3c8">Aruba</div>
<div class="t " style="right:22.2px;top:238px;font-size:6.650px;color:#ececec;-webkit-text-stroke:.22px #ececec">250 <span style="color:#f27430;font-size:6.500px;position:relative;top:-.200px;margin:0 1px;-webkit-text-stroke:0">&bull;</span> 5.3%</div>
<div class="bar trk" style="left:604.8px;top:245.70px;width:176.400px"></div>
<div class="bar stripe" style="left:604.8px;top:245.70px;width:93.99px;background-color:#4a4f57;border-radius:1.900px 1px 1px 1.900px"></div>
<div class="t b" style="left:125.2px;top:280px;font-size:6.650px;color:#f4f4f4">Live Shipment Tracking</div>
<div class="hr" style="left:116.7px;top:295.400px;width:274.050px"></div>
<div class="t b" style="left:125.2px;top:305px;font-size:12.100px;color:#f5f5f5">2.5km</div>
<div class="t " style="left:162.6px;top:311px;font-size:6.800px;color:#b9bcc1">Left</div>
<div style="position:absolute;left:243.200px;top:303.900px;width:28.600px;height:10.100px;border-radius:2.500px;background:#031b40"></div>
<div class="t " style="left:243.2px;width:28.6px;text-align:center;top:306px;font-size:5.050px;color:#1f7bf2;-webkit-text-stroke:.12px #1f7bf2">In Transit</div>
<svg style="left:0;top:0" width="800" height="500" viewBox="0 0 800 500"><path d="M128.400 334V418" stroke="#f27430" stroke-opacity=".55" stroke-width=".7" stroke-dasharray="1.300 1.300"/><circle cx="128.400" cy="340.4" r="3.400" fill="#f27430" fill-opacity=".28"/><circle cx="128.400" cy="340.4" r="2.100" fill="#f27430"/><circle cx="128.400" cy="370.4" r="3.400" fill="#f27430" fill-opacity=".28"/><circle cx="128.400" cy="370.4" r="2.100" fill="#f27430"/><circle cx="128.400" cy="400.4" r="3.400" fill="#f27430" fill-opacity=".28"/><circle cx="128.400" cy="400.4" r="2.100" fill="#f27430"/></svg>
<div class="t b" style="left:137.6px;top:338px;font-size:6.700px;color:#f4f4f4">Checking</div>
<div class="t " style="left:137.6px;top:349px;font-size:6.300px;color:#b9bcc1;letter-spacing:-.13px">Warehouse #A12 &rarr; In Transit</div>
<div class="tb" style="left:228.1px;top:335.1px;width:43.7px;height:10.100px"></div>
<div class="t " style="left:228.1px;width:43.7px;text-align:center;top:338px;font-size:5px;color:#d6d6d6;-webkit-text-stroke:.12px #d6d6d6">Today, 9:30 AM</div>
<div class="t b" style="left:137.6px;top:368px;font-size:6.700px;color:#f4f4f4">Transit</div>
<div class="t " style="left:137.6px;top:380px;font-size:6.300px;color:#b9bcc1;letter-spacing:-.03px">Expected Delivery: 3:00 PM</div>
<div class="tb" style="left:227.2px;top:365.1px;width:44.6px;height:10.100px"></div>
<div class="t " style="left:227.2px;width:44.6px;text-align:center;top:368px;font-size:5px;color:#d6d6d6;-webkit-text-stroke:.12px #d6d6d6">Today, 11:00 AM</div>
<div class="t b" style="left:137.6px;top:398px;font-size:6.700px;color:#f4f4f4">Delivered</div>
<div class="t " style="left:137.6px;top:410px;font-size:6.300px;color:#b9bcc1;letter-spacing:-.03px">Sorting Hub: NY Central</div>
<div class="tb" style="left:219.8px;top:395.2px;width:52.0px;height:10.100px"></div>
<div class="t " style="left:219.8px;width:52.0px;text-align:center;top:398px;font-size:5px;color:#d6d6d6;-webkit-text-stroke:.12px #d6d6d6">Yesterday, 6:45 PM</div>
<div style="position:absolute;left:125px;top:431.400px;width:146.600px;height:33px;border:.5px dashed #2b2b2b;border-radius:2.500px"></div>
<svg style="left:131px;top:437px" width="21.600" height="21.600" viewBox="0 0 21.600 21.600"><clipPath id="sm"><rect width="21.600" height="21.600" rx="2"/></clipPath><g clip-path="url(#sm)">
<rect width="21.600" height="21.600" fill="#8e8a86"/><rect x="0" y="0" width="6" height="21.600" fill="#b5b0aa"/><rect x="16" y="0" width="5.600" height="21.600" fill="#6e625c"/>
<path d="M5.500 9c-.5-6 3-7.500 5.500-7.500s6 1.500 5.500 7.500c-.2 3 1 6 1.500 8H4c.5-2 1.700-5 1.500-8z" fill="#2b1d18"/>
<ellipse cx="11" cy="8" rx="3.300" ry="4.200" fill="#e2b49c"/><path d="M9.300 10c.8.900 2.600.900 3.400 0-.4 1.100-3 1.100-3.400 0z" fill="#fff"/>
<path d="M1.500 21.600c0-5 3.500-7.300 9.500-7.300s9.500 2.300 9.500 7.300z" fill="#a8141f"/><path d="M9 12.500h4v2.500l-2 1.200-2-1.200z" fill="#dba58c"/></g></svg>
<div class="t " style="left:159.4px;top:440px;font-size:6.300px;color:#b9bcc1">Curior</div>
<div class="t b" style="left:159.3px;top:450px;font-size:6.700px;color:#f4f4f4">Sophia Mia</div>
<div style="position:absolute;left:221.0px;top:438px;width:19.800px;height:19.600px;border-radius:2.500px;background:#22272b"></div>
<div style="position:absolute;left:246.0px;top:438px;width:19.800px;height:19.600px;border-radius:2.500px;background:#22272b"></div>
<svg style="left:226.800px;top:443.600px" width="8.400" height="8.400" viewBox="0 0 8.400 8.400"><g class="ic" style="stroke:#c9c9c9;stroke-width:.8"><path d="M4.200 1.100c2 0 3.500 1.200 3.500 2.800S6.200 6.700 4.200 6.700c-.5 0-1-.1-1.400-.2L1.200 7.300l.4-1.500C1 5.300.7 4.600.7 3.900c0-1.600 1.500-2.800 3.500-2.800z"/><path d="M2.300 3.500h3.800M2.300 4.700h2.600"/></g></svg>
<svg style="left:251.700px;top:443.600px" width="8.400" height="8.400" viewBox="0 0 8.400 8.400"><g class="ic" style="stroke:#c9c9c9;stroke-width:.8"><path d="M1.300 1.100l1.200-.3 1 2-.9.800c.5 1.100 1.300 1.900 2.400 2.400l.8-.9 2 1-.3 1.200c-.1.400-.5.500-.9.500C3.600 7.500.9 4.800.8 2c0-.4.100-.8.500-.9z"/><path d="M5.200 3.200L7.400 1M5.600.900h1.900v1.900"/></g></svg>
<div class="t b" style="left:410.6px;top:280px;font-size:6.500px;color:#f4f4f4">Revenue</div>
<div class="hr" style="left:402px;top:295.400px;width:388px"></div>
<svg style="left:775.600px;top:281.800px" width="7" height="2" viewBox="0 0 7 2"><circle cx="1" cy="1" r=".65" fill="#c8c8c8"/><circle cx="3.300" cy="1" r=".65" fill="#c8c8c8"/><circle cx="5.600" cy="1" r=".65" fill="#c8c8c8"/></svg>
<svg style="left:410.300px;top:308.300px" width="3.400" height="3.400" viewBox="0 0 3.400 3.400"><circle cx="1.700" cy="1.700" r="1.600" fill="#f27430"/></svg>
<svg style="left:501.100px;top:308.300px" width="3.400" height="3.400" viewBox="0 0 3.400 3.400"><circle cx="1.700" cy="1.700" r="1.600" fill="#0d80f2"/></svg>
<div class="t " style="left:420px;top:307px;font-size:6.300px;color:#b4b7bc;letter-spacing:-.16px">Total Revenue</div>
<div class="t " style="left:510.2px;top:307px;font-size:6.300px;color:#b4b7bc;letter-spacing:-.1px">Total Target</div>
<div class="t b" style="left:419.8px;top:318px;font-size:8.700px;color:#f2f2f2">$55,485.66</div>
<div class="t b" style="left:510px;top:318px;font-size:8.700px;color:#f2f2f2">$45,485.66</div>
<div class="t " style="left:467px;top:320px;font-size:5.900px;color:#20aa4b">85%</div>
<div class="t " style="left:558px;top:320px;font-size:5.900px;color:#e0243a">78%</div>
<svg style="left:0;top:0" width="800" height="500" viewBox="0 0 800 500"><defs><linearGradient id="gr" x1="0" y1="0" x2="0" y2="1"><stop offset="0" stop-color="#9fc4e6" stop-opacity=".52"/><stop offset="1" stop-color="#9fc4e6" stop-opacity=".12"/></linearGradient><linearGradient id="gt" x1="0" y1="0" x2="0" y2="1"><stop offset="0" stop-color="#f2b08c" stop-opacity=".46"/><stop offset="1" stop-color="#f2b08c" stop-opacity=".085"/></linearGradient></defs>
<path d="M430 433.60H777" stroke="#3a3a3a" stroke-width=".7"/>
<path d="M430 418.00H777" stroke="#2e2e2e" stroke-width=".7"/>
<path d="M430 402.40H777" stroke="#2e2e2e" stroke-width=".7"/>
<path d="M430 386.80H777" stroke="#2e2e2e" stroke-width=".7"/>
<path d="M430 371.20H777" stroke="#2e2e2e" stroke-width=".7"/>
<path d="M430 355.60H777" stroke="#2e2e2e" stroke-width=".7"/>
<path d="M430 340.00H777" stroke="#2e2e2e" stroke-width=".7"/>
<path d="M430.00 433.60v2.200" stroke="#3a3a3a" stroke-width=".6"/>
<path d="M487.83 433.60v2.200" stroke="#3a3a3a" stroke-width=".6"/>
<path d="M545.66 433.60v2.200" stroke="#3a3a3a" stroke-width=".6"/>
<path d="M603.49 433.60v2.200" stroke="#3a3a3a" stroke-width=".6"/>
<path d="M661.32 433.60v2.200" stroke="#3a3a3a" stroke-width=".6"/>
<path d="M719.15 433.60v2.200" stroke="#3a3a3a" stroke-width=".6"/>
<path d="M430.00 386.80 C450.24 386.80 467.59 355.60 487.83 355.60 C508.07 355.60 525.42 421.90 545.66 421.90 C565.90 421.90 583.25 390.70 603.49 390.70 C623.73 390.70 641.08 410.20 661.32 410.20 C681.56 410.20 698.91 347.80 719.15 347.80 C739.39 347.80 756.74 359.50 776.98 359.50 L777 433.60 L430 433.60Z" fill="url(#gr)"/>
<path d="M430.00 355.60 C450.24 355.60 467.59 414.10 487.83 414.10 C508.07 414.10 525.42 402.40 545.66 402.40 C565.90 402.40 583.25 371.20 603.49 371.20 C623.73 371.20 641.08 410.20 661.32 410.20 C681.56 410.20 698.91 390.70 719.15 390.70 C739.39 390.70 756.74 402.40 776.98 402.40 L777 433.60 L430 433.60Z" fill="url(#gt)"/>
<path d="M430.00 386.80 C450.24 386.80 467.59 355.60 487.83 355.60 C508.07 355.60 525.42 421.90 545.66 421.90 C565.90 421.90 583.25 390.70 603.49 390.70 C623.73 390.70 641.08 410.20 661.32 410.20 C681.56 410.20 698.91 347.80 719.15 347.80 C739.39 347.80 756.74 359.50 776.98 359.50" fill="none" stroke="#a9cdee" stroke-width=".95"/>
<path d="M430.00 355.60 C450.24 355.60 467.59 414.10 487.83 414.10 C508.07 414.10 525.42 402.40 545.66 402.40 C565.90 402.40 583.25 371.20 603.49 371.20 C623.73 371.20 641.08 410.20 661.32 410.20 C681.56 410.20 698.91 390.70 719.15 390.70 C739.39 390.70 756.74 402.40 776.98 402.40" fill="none" stroke="#f7bb98" stroke-width=".95"/>
<circle cx="570.200" cy="453.800" r="2.300" fill="#a9cdee"/><circle cx="603.500" cy="453.800" r="2.300" fill="#f7bb98"/>
</svg>
<div class="t ax b" style="right:373.6px;top:433px;font-size:4.500px">20</div>
<div class="t ax b" style="right:373.6px;top:417px;font-size:4.500px">40</div>
<div class="t ax b" style="right:373.6px;top:402px;font-size:4.500px">60</div>
<div class="t ax b" style="right:373.6px;top:386px;font-size:4.500px">80</div>
<div class="t ax b" style="right:373.6px;top:370px;font-size:4.500px">100</div>
<div class="t ax b" style="right:373.6px;top:355px;font-size:4.500px">120</div>
<div class="t ax b" style="right:373.6px;top:339px;font-size:4.500px">140</div>
<div class="t ax b" style="left:410.2px;width:40px;text-align:center;top:442px;font-size:5.100px">Jan '24</div>
<div class="t ax b" style="left:468.03px;width:40px;text-align:center;top:442px;font-size:5.100px">Feb '24</div>
<div class="t ax b" style="left:525.86px;width:40px;text-align:center;top:442px;font-size:5.100px">Mar '24</div>
<div class="t ax b" style="left:583.69px;width:40px;text-align:center;top:442px;font-size:5.100px">Apr '24</div>
<div class="t ax b" style="left:641.52px;width:40px;text-align:center;top:442px;font-size:5.100px">May '24</div>
<div class="t ax b" style="left:699.35px;width:40px;text-align:center;top:442px;font-size:5.100px">Jun '24</div>
<div class="t " style="left:573.2px;top:451px;font-size:6.300px;color:#ededed;letter-spacing:-.2px">Revenue</div>
<div class="t " style="left:606.6px;top:451px;font-size:6.300px;color:#ededed;letter-spacing:-.2px">Target</div>
<div class="t b" style="left:125.3px;top:496px;font-size:6.500px;color:#f4f4f4">Analityc View</div>
<svg style="left:375px;top:497px" width="7" height="2" viewBox="0 0 7 2"><circle cx="1" cy="1" r=".65" fill="#c8c8c8"/><circle cx="3.300" cy="1" r=".65" fill="#c8c8c8"/><circle cx="5.600" cy="1" r=".65" fill="#c8c8c8"/></svg>
<div class="t b" style="left:410.6px;top:496px;font-size:6.500px;color:#f4f4f4">Avg. Monthly Delivered</div>
<div class="t " style="right:218.4px;top:496px;font-size:6.300px;color:#a8adb3">Read &rarr;</div>
<div class="t b" style="left:610.4px;top:496px;font-size:6.500px;color:#f4f4f4">Sales Report</div>
<svg style="left:775.600px;top:497px" width="7" height="2" viewBox="0 0 7 2"><circle cx="1" cy="1" r=".65" fill="#c8c8c8"/><circle cx="3.300" cy="1" r=".65" fill="#c8c8c8"/><circle cx="5.600" cy="1" r=".65" fill="#c8c8c8"/></svg>
<svg style="left:280px;top:304px" width="102" height="159.400" viewBox="280 304 102 159.400"><defs><clipPath id="mc"><rect x="280" y="304" width="102" height="159.400" rx="2"/></clipPath><filter id="nz" x="0" y="0" width="100%" height="100%"><feTurbulence type="fractalNoise" baseFrequency="0.42" numOctaves="2" seed="7"/><feColorMatrix type="matrix" values="0 0 0 0 0.62  0 0 0 0 0.56  0 0 0 0 0.54  0 0 0 2.0 -0.92"/></filter><filter id="nw" x="0" y="0" width="100%" height="100%"><feTurbulence type="fractalNoise" baseFrequency="0.5" numOctaves="2" seed="21"/><feColorMatrix type="matrix" values="0 0 0 0 1  0 0 0 0 1  0 0 0 0 1  0 0 0 2.4 -1.15"/></filter><filter id="ps" x="-20%" y="-20%" width="140%" height="150%"><feDropShadow dx="0" dy="1" stdDeviation="1.800" flood-color="#000" flood-opacity=".4"/></filter></defs><g clip-path="url(#mc)">
<rect x="280" y="304" width="102" height="84" fill="#ead9d4"/><rect x="280" y="388" width="102" height="76" fill="#e4dcd8"/>
<rect x="296" y="313" width="14" height="18" fill="#e2d6d0"/>
<rect x="313" y="306" width="22" height="10" fill="#e8dfd9"/>
<rect x="340" y="306" width="14" height="24" fill="#efd6d2"/>
<rect x="282" y="316" width="10" height="14" fill="#e3dad4"/>
<rect x="300" y="336" width="38" height="18" fill="#f0d9d5"/>
<rect x="362" y="312" width="12" height="20" fill="#e0d4d0"/>
<rect x="285" y="392" width="8" height="10" fill="#dfe3d6"/>
<rect x="330" y="432" width="16" height="20" fill="#e9dfdb"/>
<rect x="352" y="400" width="20" height="14" fill="#ead6d3"/>
<rect x="366" y="436" width="16" height="18" fill="#e6e0dc"/>
<rect x="283" y="436" width="18" height="14" fill="#e2dcd8"/>
<rect x="318" y="404" width="12" height="14" fill="#e8e0db"/>
<rect x="282" y="417.5" width="4.5" height="5.5" rx="1" fill="#c6e6b8"/>
<rect x="311.4" y="413" width="5.4" height="3.4" rx="1" fill="#c6e6b8"/>
<rect x="326.5" y="423" width="6" height="4" rx="1" fill="#c6e6b8"/>
<rect x="304" y="322" width="5" height="5" rx="1" fill="#c6e6b8"/>
<rect x="372" y="441" width="6" height="5" rx="1" fill="#c6e6b8"/>
<rect x="290" y="446" width="5" height="4" rx="1" fill="#c6e6b8"/>
<rect x="343" y="442" width="4" height="4" rx="1" fill="#c6e6b8"/>
<rect x="322" y="436" width="4" height="3" rx="1" fill="#c6e6b8"/>
<rect x="333" y="408" width="3" height="3" rx="1" fill="#c6e6b8"/>
<rect x="368" y="424" width="4" height="3" rx="1" fill="#c6e6b8"/>
<rect x="332" y="306" width="4" height="4" rx="1" fill="#c6e6b8"/>
<rect x="283" y="318" width="4" height="10" fill="#f3efb5"/>
<rect x="309" y="315" width="4" height="8" fill="#f3efb5"/>
<rect x="305" y="332" width="5" height="5" fill="#f3efb5"/>
<rect x="341" y="312" width="3" height="10" fill="#f3efb5"/>
<rect x="368" y="390" width="13" height="9" fill="#efd3d0"/>
<rect x="280" y="304" width="102" height="159.400" filter="url(#nz)"/><rect x="280" y="304" width="102" height="159.400" filter="url(#nw)"/>
<path d="M280 358 L296 357.500 L330 363 L360 372 L382 374 L382 389 L362 388 L335 383 L300 378 L280 377Z" fill="#9dc3dc"/>
<path d="M281 362h12M282 367h12M281 372h13M366 379h16M368 384h14M362 381h3" stroke="#6394c4" stroke-width="1.300"/>
<path d="M296.0 321.0 L313.0 316.0 L332.0 325.0" fill="none" stroke="#fbfbfb" stroke-width=".9"/>
<path d="M296.0 321.0 L306.0 333.0" fill="none" stroke="#fbfbfb" stroke-width=".9"/>
<path d="M300.0 344.0 L318.0 348.0 L344.0 346.0 L370.0 350.0" fill="none" stroke="#fbfbfb" stroke-width=".9"/>
<path d="M318.0 333.0 L322.0 357.0" fill="none" stroke="#fbfbfb" stroke-width=".9"/>
<path d="M333.0 333.0 L336.0 357.0" fill="none" stroke="#fbfbfb" stroke-width=".9"/>
<path d="M296.0 349.0 L318.0 356.0" fill="none" stroke="#fbfbfb" stroke-width=".9"/>
<path d="M352.0 338.0 L370.0 352.0" fill="none" stroke="#fbfbfb" stroke-width=".9"/>
<path d="M326.0 304.0 L324.0 318.0" fill="none" stroke="#fbfbfb" stroke-width=".9"/>
<path d="M349.0 304.0 L346.0 318.0" fill="none" stroke="#fbfbfb" stroke-width=".9"/>
<path d="M282.0 330.0 L293.0 326.0" fill="none" stroke="#fbfbfb" stroke-width=".9"/>
<path d="M356.0 346.0 L372.0 340.0" fill="none" stroke="#fbfbfb" stroke-width=".9"/>
<path d="M320.0 432.0 L322.0 457.0" fill="none" stroke="#fbfbfb" stroke-width=".9"/>
<path d="M332.0 430.0 L336.0 457.0" fill="none" stroke="#fbfbfb" stroke-width=".9"/>
<path d="M346.0 436.0 L340.0 457.0" fill="none" stroke="#fbfbfb" stroke-width=".9"/>
<path d="M284.0 404.0 L292.0 424.0" fill="none" stroke="#fbfbfb" stroke-width=".9"/>
<path d="M352.0 428.0 L372.0 424.0" fill="none" stroke="#fbfbfb" stroke-width=".9"/>
<path d="M310.0 440.0 L330.0 442.0 L352.0 446.0" fill="none" stroke="#fbfbfb" stroke-width=".9"/>
<path d="M366.0 400.0 L382.0 408.0" fill="none" stroke="#fbfbfb" stroke-width=".9"/>
<path d="M338.0 404.0 L346.0 420.0" fill="none" stroke="#fbfbfb" stroke-width=".9"/>
<path d="M314.6 410.0 L322.2 419.6 L324.4 427.2" fill="none" stroke="#f4f2b0" stroke-width="1.300"/>
<path d="M365.4 449.0 L372.0 437.4 L382.0 431.0" fill="none" stroke="#f4f2b0" stroke-width="1.300"/>
<path d="M304.0 306.0 L306.0 320.0" fill="none" stroke="#f4f2b0" stroke-width="1.300"/>
<path d="M282.5 313.0 L283.5 328.0" fill="none" stroke="#f4f2b0" stroke-width="1.300"/>
<path d="M300.5 313.0 L301.0 323.0" fill="none" stroke="#f4f2b0" stroke-width="1.300"/>
<path d="M303.5 330.0 L305.0 336.0" fill="none" stroke="#f4f2b0" stroke-width="1.300"/>
<path d="M354.8 415.3 L365.6 414.2 L373.2 412.0" fill="none" stroke="#f4f2b0" stroke-width="1.300"/>
<path d="M377.5 311.6 L378.6 330.0" fill="none" stroke="#f4f2b0" stroke-width="1.300"/>
<path d="M331.0 305.0 L332.0 318.0" fill="none" stroke="#f4f2b0" stroke-width="1.300"/>
<path d="M358.0 426.0 L366.0 436.0" fill="none" stroke="#f4f2b0" stroke-width="1.300"/>
<path d="M315.7 321.7 L332.2 329.9 L350.2 334.0" fill="none" stroke="#767676" stroke-width="1.6"/>
<path d="M315.7 321.7 L332.2 329.9 L350.2 334.0" fill="none" stroke="#b9b9b9" stroke-width="0.72" stroke-dasharray="1.500 1.500"/>
<path d="M363.3 357.8 L382.0 359.4" fill="none" stroke="#767676" stroke-width="1.6"/>
<path d="M363.3 357.8 L382.0 359.4" fill="none" stroke="#b9b9b9" stroke-width="0.72" stroke-dasharray="1.500 1.500"/>
<path d="M299.3 350.0 L299.0 384.0" fill="none" stroke="#767676" stroke-width="1.6"/>
<path d="M299.3 350.0 L299.0 384.0" fill="none" stroke="#b9b9b9" stroke-width="0.72" stroke-dasharray="1.500 1.500"/>
<path d="M280.0 387.0 L333.0 388.0" fill="none" stroke="#767676" stroke-width="2.8"/>
<path d="M280.0 387.0 L333.0 388.0" fill="none" stroke="#b9b9b9" stroke-width="1.26" stroke-dasharray="1.500 1.500"/>
<path d="M340.8 383.0 L351.6 390.5 L362.4 401.3 L373.2 410.0 L384.0 418.6" fill="none" stroke="#767676" stroke-width="4.6"/>
<path d="M340.8 383.0 L351.6 390.5 L362.4 401.3 L373.2 410.0 L384.0 418.6" fill="none" stroke="#b9b9b9" stroke-width="2.07" stroke-dasharray="1.500 1.500"/>
<path d="M297.0 384.0 L298.4 387.0 L301.7 397.0 L305.0 407.8 L308.2 419.6 L309.2 429.4 L308.2 438.0 L311.0 447.0 L314.1 458.0" fill="none" stroke="#767676" stroke-width="2.8"/>
<path d="M297.0 384.0 L298.4 387.0 L301.7 397.0 L305.0 407.8 L308.2 419.6 L309.2 429.4 L308.2 438.0 L311.0 447.0 L314.1 458.0" fill="none" stroke="#b9b9b9" stroke-width="1.26" stroke-dasharray="1.500 1.500"/>
<path d="M296.0 360.0 L294.6 376.5 L302.4 386.9" fill="none" stroke="#767676" stroke-width="2.8"/>
<path d="M296.0 360.0 L294.6 376.5 L302.4 386.9" fill="none" stroke="#b9b9b9" stroke-width="1.26" stroke-dasharray="1.500 1.500"/>
<path d="M363.0 357.5 L372.0 360.0 L382.0 362.0" fill="none" stroke="#767676" stroke-width="1.6"/>
<path d="M363.0 357.5 L372.0 360.0 L382.0 362.0" fill="none" stroke="#b9b9b9" stroke-width="0.72" stroke-dasharray="1.500 1.500"/>
<path d="M352 317 L360 314 L362 320 L357 333 L350 333Z" fill="#8a8d92"/><path d="M353 324l5-6" stroke="#4b79a8" stroke-width="1.400"/>
<path d="M293.6 304.0 L294.4 358.0 L295.0 384.0 L293.0 388.0 L293.6 405.6 L294.1 413.0" fill="none" stroke="#cfa571" stroke-width="2.200" stroke-linejoin="round"/>
<path d="M280.0 313.0 L294.0 311.6 L311.5 311.0" fill="none" stroke="#cfa571" stroke-width="2.200" stroke-linejoin="round"/>
<path d="M311.6 304.0 L311.6 332.4" fill="none" stroke="#cfa571" stroke-width="2.200" stroke-linejoin="round"/>
<path d="M337.6 304.0 L336.5 316.0 L334.3 332.0" fill="none" stroke="#cfa571" stroke-width="2.200" stroke-linejoin="round"/>
<path d="M361.3 304.0 L361.3 311.6 L358.0 324.6 L353.2 337.6 L346.2 346.2 L343.0 357.0" fill="none" stroke="#cfa571" stroke-width="2.200" stroke-linejoin="round"/>
<path d="M293.6 332.4 L330.0 332.0 L351.6 337.6 L362.4 344.0 L370.0 343.0" fill="none" stroke="#cfa571" stroke-width="2.200" stroke-linejoin="round"/>
<path d="M280.0 326.6 L293.6 332.4" fill="none" stroke="#cfa571" stroke-width="2.200" stroke-linejoin="round"/>
<path d="M280.0 346.3 L294.4 346.3 L320.0 351.0 L343.0 357.0" fill="none" stroke="#cfa571" stroke-width="2.200" stroke-linejoin="round"/>
<path d="M311.5 311.0 L338.0 309.0 L361.3 311.6" fill="none" stroke="#cfa571" stroke-width="2.200" stroke-linejoin="round"/>
<path d="M281.0 397.0 L293.0 412.0 L300.6 419.6" fill="none" stroke="#cfa571" stroke-width="2.200" stroke-linejoin="round"/>
<path d="M280.0 412.0 L294.0 410.0 L307.0 410.0 L314.6 405.6 L324.4 399.0 L331.0 398.0" fill="none" stroke="#cfa571" stroke-width="2.200" stroke-linejoin="round"/>
<path d="M280.0 412.0 L287.6 416.4 L296.3 419.6 L304.0 421.0" fill="none" stroke="#cfa571" stroke-width="2.200" stroke-linejoin="round"/>
<path d="M308.0 388.0 L306.0 400.0 L305.0 409.0" fill="none" stroke="#cfa571" stroke-width="2.200" stroke-linejoin="round"/>
<path d="M324.4 399.0 L326.5 408.8 L333.0 416.4 L336.5 420.7 L340.8 426.0" fill="none" stroke="#cfa571" stroke-width="2.200" stroke-linejoin="round"/>
<path d="M334.3 402.4 L343.0 408.8 L351.6 414.2 L354.8 415.3" fill="none" stroke="#cfa571" stroke-width="2.200" stroke-linejoin="round"/>
<path d="M348.4 384.0 L354.8 390.5 L362.4 396.0 L371.0 402.4 L382.0 409.0" fill="none" stroke="#cfa571" stroke-width="2.200" stroke-linejoin="round"/>
<path d="M350.5 397.0 L352.7 405.6 L353.8 415.3" fill="none" stroke="#cfa571" stroke-width="2.200" stroke-linejoin="round"/>
<path d="M357.0 419.6 L365.6 426.0 L373.2 432.6 L382.0 435.5" fill="none" stroke="#cfa571" stroke-width="2.200" stroke-linejoin="round"/>
<path d="M307.4 421.5 L311.6 437.4 L316.6 458.0" fill="none" stroke="#cfa571" stroke-width="2.200" stroke-linejoin="round"/>
<path d="M280.0 430.0 L292.0 428.0 L304.0 424.0" fill="none" stroke="#cfa571" stroke-width="2.200" stroke-linejoin="round"/>
<path d="M329.0 388.0 L324.4 399.0" fill="none" stroke="#cfa571" stroke-width="2.200" stroke-linejoin="round"/>
<path d="M293.6 304.0 L294.4 358.0 L295.0 384.0 L293.0 388.0 L293.6 405.6 L294.1 413.0" fill="none" stroke="#f7d3a2" stroke-width="1.600" stroke-linejoin="round"/>
<path d="M280.0 313.0 L294.0 311.6 L311.5 311.0" fill="none" stroke="#f7d3a2" stroke-width="1.600" stroke-linejoin="round"/>
<path d="M311.6 304.0 L311.6 332.4" fill="none" stroke="#f7d3a2" stroke-width="1.600" stroke-linejoin="round"/>
<path d="M337.6 304.0 L336.5 316.0 L334.3 332.0" fill="none" stroke="#f7d3a2" stroke-width="1.600" stroke-linejoin="round"/>
<path d="M361.3 304.0 L361.3 311.6 L358.0 324.6 L353.2 337.6 L346.2 346.2 L343.0 357.0" fill="none" stroke="#f7d3a2" stroke-width="1.600" stroke-linejoin="round"/>
<path d="M293.6 332.4 L330.0 332.0 L351.6 337.6 L362.4 344.0 L370.0 343.0" fill="none" stroke="#f7d3a2" stroke-width="1.600" stroke-linejoin="round"/>
<path d="M280.0 326.6 L293.6 332.4" fill="none" stroke="#f7d3a2" stroke-width="1.600" stroke-linejoin="round"/>
<path d="M280.0 346.3 L294.4 346.3 L320.0 351.0 L343.0 357.0" fill="none" stroke="#f7d3a2" stroke-width="1.600" stroke-linejoin="round"/>
<path d="M311.5 311.0 L338.0 309.0 L361.3 311.6" fill="none" stroke="#f7d3a2" stroke-width="1.600" stroke-linejoin="round"/>
<path d="M281.0 397.0 L293.0 412.0 L300.6 419.6" fill="none" stroke="#f7d3a2" stroke-width="1.600" stroke-linejoin="round"/>
<path d="M280.0 412.0 L294.0 410.0 L307.0 410.0 L314.6 405.6 L324.4 399.0 L331.0 398.0" fill="none" stroke="#f7d3a2" stroke-width="1.600" stroke-linejoin="round"/>
<path d="M280.0 412.0 L287.6 416.4 L296.3 419.6 L304.0 421.0" fill="none" stroke="#f7d3a2" stroke-width="1.600" stroke-linejoin="round"/>
<path d="M308.0 388.0 L306.0 400.0 L305.0 409.0" fill="none" stroke="#f7d3a2" stroke-width="1.600" stroke-linejoin="round"/>
<path d="M324.4 399.0 L326.5 408.8 L333.0 416.4 L336.5 420.7 L340.8 426.0" fill="none" stroke="#f7d3a2" stroke-width="1.600" stroke-linejoin="round"/>
<path d="M334.3 402.4 L343.0 408.8 L351.6 414.2 L354.8 415.3" fill="none" stroke="#f7d3a2" stroke-width="1.600" stroke-linejoin="round"/>
<path d="M348.4 384.0 L354.8 390.5 L362.4 396.0 L371.0 402.4 L382.0 409.0" fill="none" stroke="#f7d3a2" stroke-width="1.600" stroke-linejoin="round"/>
<path d="M350.5 397.0 L352.7 405.6 L353.8 415.3" fill="none" stroke="#f7d3a2" stroke-width="1.600" stroke-linejoin="round"/>
<path d="M357.0 419.6 L365.6 426.0 L373.2 432.6 L382.0 435.5" fill="none" stroke="#f7d3a2" stroke-width="1.600" stroke-linejoin="round"/>
<path d="M307.4 421.5 L311.6 437.4 L316.6 458.0" fill="none" stroke="#f7d3a2" stroke-width="1.600" stroke-linejoin="round"/>
<path d="M280.0 430.0 L292.0 428.0 L304.0 424.0" fill="none" stroke="#f7d3a2" stroke-width="1.600" stroke-linejoin="round"/>
<path d="M329.0 388.0 L324.4 399.0" fill="none" stroke="#f7d3a2" stroke-width="1.600" stroke-linejoin="round"/>
<path d="M356.0 304.0 L362.4 311.6 L368.9 321.4 L372.1 331.0 L375.4 339.7 L375.5 350.0 L373.5 360.0 L369.5 371.0 L364.5 381.0 L362.5 392.0 L359.2 405.6 L354.8 415.3 L345.0 425.0 L338.6 427.2 L330.0 428.3 L314.6 427.2 L305.0 427.5 L301.5 432.4 L288.0 444.2 L280.0 449.2" fill="none" stroke="#cf8675" stroke-width="2.900" stroke-linejoin="round"/>
<path d="M375.4 341.0 L382.0 347.5" fill="none" stroke="#cf8675" stroke-width="2.900" stroke-linejoin="round"/>
<path d="M364.6 306.0 L382.0 309.0" fill="none" stroke="#cf8675" stroke-width="2.900" stroke-linejoin="round"/>
<path d="M378.0 350.0 L382.0 372.0" fill="none" stroke="#cf8675" stroke-width="2.900" stroke-linejoin="round"/>
<path d="M340.8 427.2 L347.3 433.7 L351.9 438.0 L362.0 449.2 L368.7 458.0" fill="none" stroke="#cf8675" stroke-width="2.900" stroke-linejoin="round"/>
<path d="M280.0 458.0 L288.0 445.8" fill="none" stroke="#cf8675" stroke-width="2.900" stroke-linejoin="round"/>
<path d="M288.0 445.8 L298.0 458.0" fill="none" stroke="#cf8675" stroke-width="2.900" stroke-linejoin="round"/>
<path d="M356.0 304.0 L362.4 311.6 L368.9 321.4 L372.1 331.0 L375.4 339.7 L375.5 350.0 L373.5 360.0 L369.5 371.0 L364.5 381.0 L362.5 392.0 L359.2 405.6 L354.8 415.3 L345.0 425.0 L338.6 427.2 L330.0 428.3 L314.6 427.2 L305.0 427.5 L301.5 432.4 L288.0 444.2 L280.0 449.2" fill="none" stroke="#f2ab9b" stroke-width="2.200" stroke-linejoin="round"/>
<path d="M375.4 341.0 L382.0 347.5" fill="none" stroke="#f2ab9b" stroke-width="2.200" stroke-linejoin="round"/>
<path d="M364.6 306.0 L382.0 309.0" fill="none" stroke="#f2ab9b" stroke-width="2.200" stroke-linejoin="round"/>
<path d="M378.0 350.0 L382.0 372.0" fill="none" stroke="#f2ab9b" stroke-width="2.200" stroke-linejoin="round"/>
<path d="M340.8 427.2 L347.3 433.7 L351.9 438.0 L362.0 449.2 L368.7 458.0" fill="none" stroke="#f2ab9b" stroke-width="2.200" stroke-linejoin="round"/>
<path d="M280.0 458.0 L288.0 445.8" fill="none" stroke="#f2ab9b" stroke-width="2.200" stroke-linejoin="round"/>
<path d="M288.0 445.8 L298.0 458.0" fill="none" stroke="#f2ab9b" stroke-width="2.200" stroke-linejoin="round"/>
<rect x="342.600" y="417.600" width="13.800" height="6.800" rx="1" fill="#f6c9c2" stroke="#c48a82" stroke-width=".4"/>
<text x="349.5" y="422.8" font-family="Liberation Sans, sans-serif" font-size="4.8" text-anchor="middle" fill="#7a3a34" stroke="#fff" stroke-opacity=".75" stroke-width="1" paint-order="stroke" stroke-linejoin="round">A100</text>
<text x="278.5" y="309.5" font-family="Liberation Sans, sans-serif" font-size="5.6" text-anchor="start" fill="#3d3d3d" stroke="#fff" stroke-opacity=".75" stroke-width="1" paint-order="stroke" stroke-linejoin="round">lerkenwell</text>
<text x="327.5" y="316.5" font-family="Liberation Sans, sans-serif" font-size="5.6" text-anchor="middle" fill="#3d3d3d" stroke="#fff" stroke-opacity=".75" stroke-width="1" paint-order="stroke" stroke-linejoin="round">Finsbury</text>
<text x="325.5" y="342.7" font-family="Liberation Sans, sans-serif" font-size="6.5" text-anchor="middle" fill="#3d3d3d" stroke="#fff" stroke-opacity=".75" stroke-width="1" paint-order="stroke" stroke-linejoin="round">City of London</text>
<text x="311.5" y="397.9" font-family="Liberation Sans, sans-serif" font-size="5.4" text-anchor="middle" fill="#3d3d3d" stroke="#fff" stroke-opacity=".75" stroke-width="1" paint-order="stroke" stroke-linejoin="round">The Borough</text>
<text x="303.5" y="424.3" font-family="Liberation Sans, sans-serif" font-size="5.6" text-anchor="middle" fill="#3d3d3d" stroke="#fff" stroke-opacity=".75" stroke-width="1" paint-order="stroke" stroke-linejoin="round">Elephant and</text>
<text x="303" y="431" font-family="Liberation Sans, sans-serif" font-size="5.6" text-anchor="middle" fill="#3d3d3d" stroke="#fff" stroke-opacity=".75" stroke-width="1" paint-order="stroke" stroke-linejoin="round">Castle</text>
<text x="329" y="448" font-family="Liberation Sans, sans-serif" font-size="5.6" text-anchor="middle" fill="#3d3d3d" stroke="#fff" stroke-opacity=".75" stroke-width="1" paint-order="stroke" stroke-linejoin="round">Walworth</text>
<text x="347.5" y="455.4" font-family="Liberation Sans, sans-serif" font-size="5.3" text-anchor="start" fill="#3d3d3d" stroke="#fff" stroke-opacity=".75" stroke-width="1" paint-order="stroke" stroke-linejoin="round">Old Kent Road</text>
<text x="278.5" y="454.8" font-family="Liberation Sans, sans-serif" font-size="5.3" text-anchor="start" fill="#3d3d3d" stroke="#fff" stroke-opacity=".75" stroke-width="1" paint-order="stroke" stroke-linejoin="round">ington</text>
<path d="M331.300 404.200c-1.300-3.800-5.900-7.600-5.900-12.300a5.900 5.900 0 0 1 11.800 0c0 4.700-4.600 8.500-5.900 12.300z" fill="#2b82cb" stroke="#1f63a0" stroke-width=".5"/><circle cx="331.300" cy="392.600" r="2.100" fill="#fff"/>
<g filter="url(#ps)"><rect x="298.700" y="357.300" width="65.100" height="27" rx="5.500" fill="#fff"/><path d="M327.300 384l4 4 4-4z" fill="#fff"/></g>
<text x="307.800" y="368.700" font-family="Liberation Sans, sans-serif" font-size="6.150" fill="#2b2b2b">Out for Delivery</text>
<text x="307.800" y="375.900" font-family="Liberation Sans, sans-serif" font-size="6.150" fill="#2b2b2b">ETA: 2:30 PM</text>
<g><rect x="346.800" y="371.200" width="4.600" height="3.800" rx=".5" fill="#f2a83b"/><path d="M351.400 372.400h1.800l1 1.300v1.300h-2.800z" fill="#d9534f"/><rect x="351.900" y="372.800" width="1.200" height=".9" fill="#bfe3f5"/><circle cx="348.300" cy="375.300" r=".8" fill="#333"/><circle cx="352.600" cy="375.300" r=".8" fill="#333"/></g>
<path d="M357.600 361l2.200 2.400M359.800 361l-2.200 2.400" stroke="#757575" stroke-width=".6"/>
<rect x="308.200" y="457" width="74" height="6.600" fill="#fff" fill-opacity=".8"/>
<rect x="309.700" y="458.700" width="5.200" height="1.700" fill="#4c7be1"/><rect x="309.700" y="460.400" width="5.200" height="1.700" fill="#ffd500"/>
<text x="316.200" y="462.100" font-family="Liberation Sans, sans-serif" font-size="5.250" fill="#0078a8">Leaflet <tspan fill="#333">| ©</tspan> OpenStreetMap</text>
</g></svg>
</body></html>
